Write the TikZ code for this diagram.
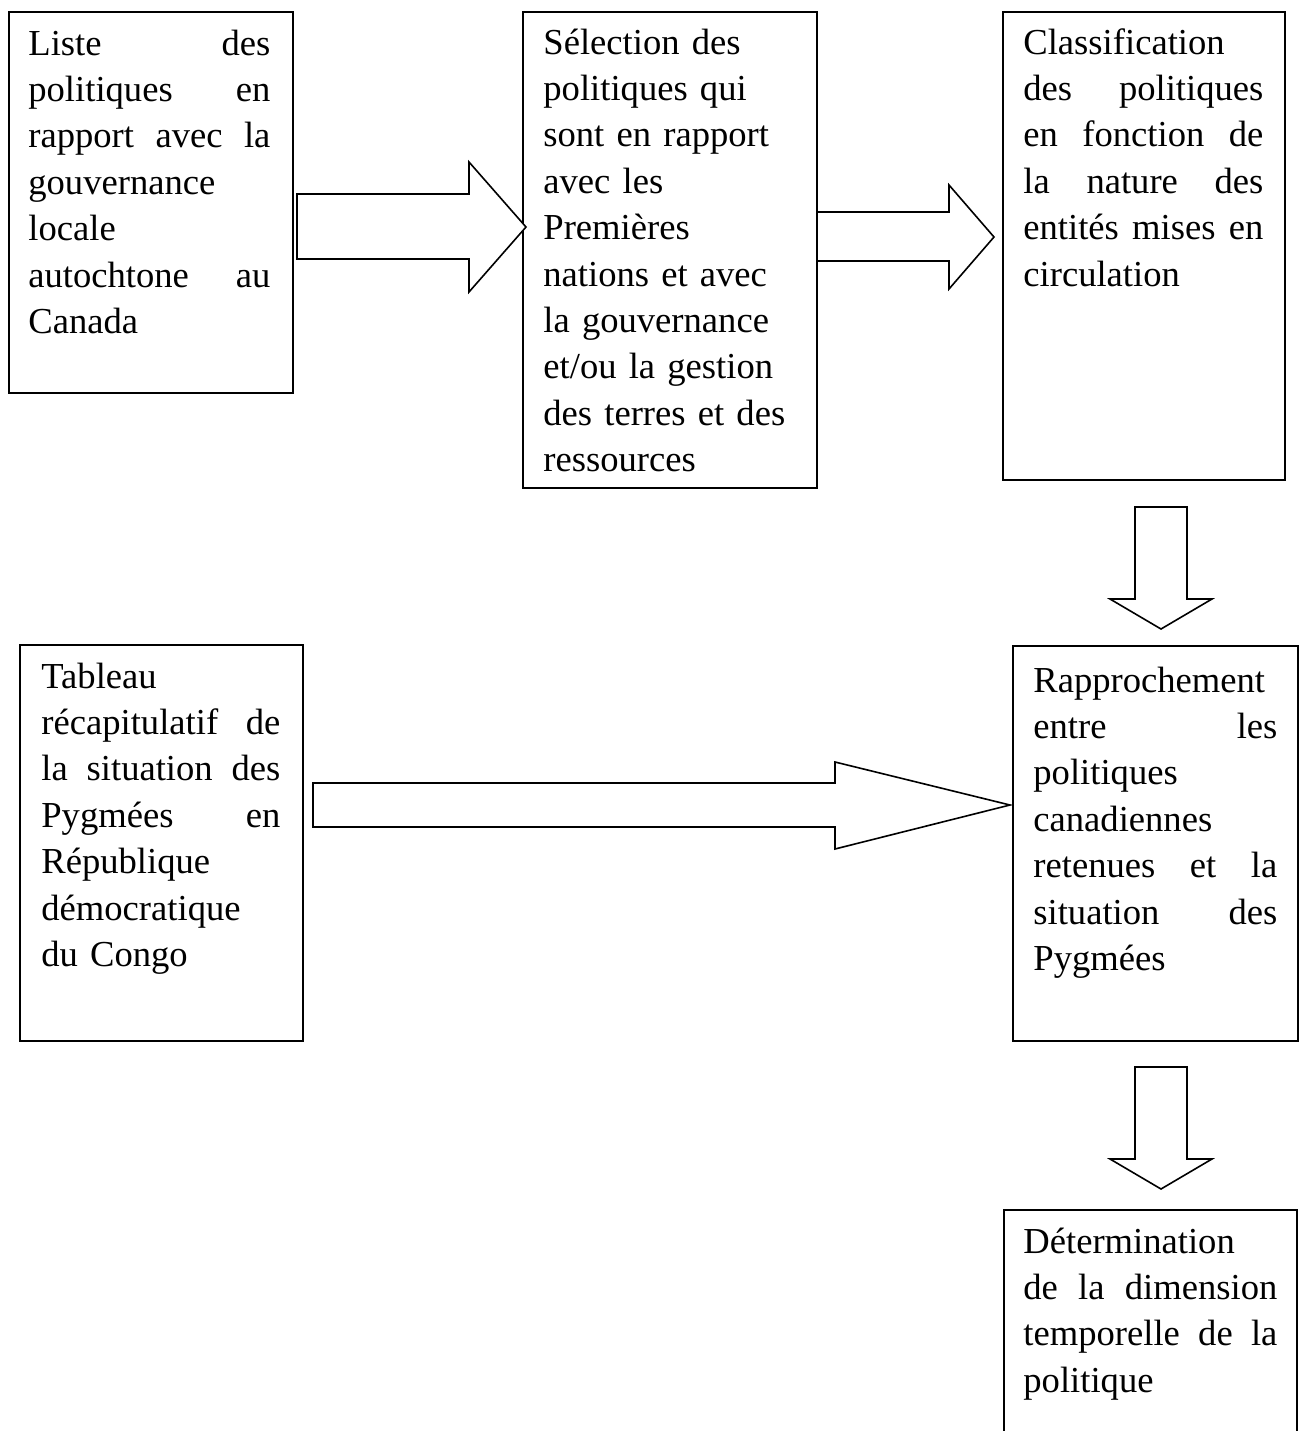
\documentclass[tikz,border=0pt]{standalone}
\usepackage{fontspec}
\setmainfont{Liberation Serif}
\newcommand\jline[1]{\noindent\hbox to \hsize{#1}}
\begin{document}
\begin{tikzpicture}[x=0.5pt,y=-0.5pt,
  box/.style={draw,line width=0.8pt,inner sep=0pt,anchor=north west},
  txt/.style={inner sep=0pt,anchor=base west,align=left,font=\fontsize{18.3}{23.2}\selectfont},
  blk/.style={draw,line width=0.8pt,line join=miter,fill=white}]
\useasboundingbox (0,0) rectangle (1307,1431);
% boxes
\node[box,minimum width=142pt,minimum height=190.5pt] (b1) at (8,11) {};
\node[box,minimum width=147pt,minimum height=238pt] (b2) at (522,11) {};
\node[box,minimum width=141pt,minimum height=234pt] (b3) at (1002,11) {};
\node[box,minimum width=141.5pt,minimum height=198pt] (b4) at (19,644) {};
\node[box,minimum width=142.5pt,minimum height=197.5pt] (b5) at (1012,645) {};
\node[box,minimum width=146.5pt,minimum height=120pt] (b6) at (1003,1209) {};
% texts
\node[txt,text width=121pt] (t1) at (28,55) {%
\jline{Liste\hfill des}\\
\jline{politiques\hfill en}\\
\jline{rapport\hfill avec\hfill la}\\
gouvernance\\
locale\\
\jline{autochtone\hfill au}\\
Canada};
\node[txt,text width=125pt] (t2) at (543,54) {%
\noindent Sélection des\\
politiques qui\\
sont en rapport\\
avec les\\
Premières\\
nations et avec\\
la gouvernance\\
et/ou la gestion\\
des terres et des\\
ressources};
\node[txt,text width=120pt] (t3) at (1023,54) {%
\noindent Classification\\
\jline{des\hfill politiques}\\
\jline{en\hfill fonction\hfill de}\\
\jline{la\hfill nature\hfill des}\\
\jline{entités\hfill mises\hfill en}\\
circulation};
\node[txt,text width=119.5pt] (t4) at (41,688) {%
\noindent Tableau\\
\jline{récapitulatif\hfill de}\\
\jline{la\hfill situation\hfill des}\\
\jline{Pygmées\hfill en}\\
République\\
démocratique\\
du Congo};
\node[txt,text width=122pt] (t5) at (1033,692) {%
\noindent Rapprochement\\
\jline{entre\hfill les}\\
politiques\\
canadiennes\\
\jline{retenues\hfill et\hfill la}\\
\jline{situation\hfill des}\\
Pygmées};
\node[txt,text width=127pt] (t6) at (1023,1253) {%
\noindent Détermination\\
\jline{de\hfill la\hfill dimension}\\
\jline{temporelle\hfill de\hfill la}\\
politique};
% block arrows
\draw[blk] (297,194) -- (469,194) -- (469,162) -- (526,227) -- (469,292) -- (469,259) -- (297,259) -- cycle;
\draw[blk] (817,212) -- (949,212) -- (949,185) -- (994,237) -- (949,289) -- (949,261) -- (817,261) -- cycle;
\draw[blk] (1135,507) -- (1187,507) -- (1187,599) -- (1212,599) -- (1161,629) -- (1110,599) -- (1135,599) -- cycle;
\draw[blk] (313,783) -- (835,783) -- (835,762) -- (1010,805) -- (835,849) -- (835,827) -- (313,827) -- cycle;
\draw[blk] (1135,1067) -- (1187,1067) -- (1187,1159) -- (1212,1159) -- (1161,1189) -- (1110,1159) -- (1135,1159) -- cycle;
\end{tikzpicture}
\end{document}
